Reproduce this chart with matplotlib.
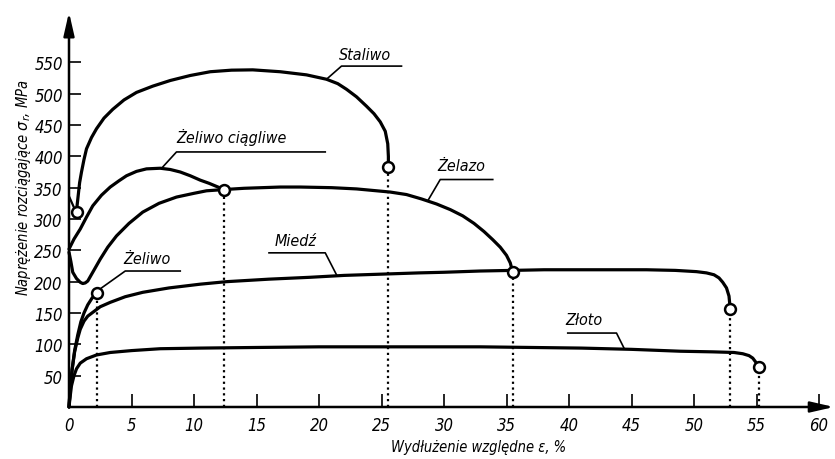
import matplotlib
matplotlib.use("Agg")
import matplotlib.pyplot as plt
import matplotlib.font_manager as fm

# ---------------- data ----------------
xticks = list(range(0, 61, 5))
yticks = list(range(50, 551, 50))

staliwo_x = [0.6, 0.65, 0.75, 0.85, 1.0, 1.2, 1.4, 1.8, 2.2, 2.8, 3.5, 4.4, 5.4, 6.7, 8.1,
             9.7, 11.3, 13.0, 14.7, 16.9, 19.0, 20.6, 21.5, 22.2, 23.0, 23.8, 24.4, 24.9,
             25.3, 25.5, 25.55, 25.55]
staliwo_y = [311, 322, 340, 358, 375, 395, 412, 430, 444, 461, 475, 490, 502, 512, 521,
             529, 535, 537.5, 538, 535, 530, 523, 516, 507, 495, 480, 468, 455,
             440, 420, 400, 383]
staliwo_stub_x = [0.05, 0.45]
staliwo_stub_y = [334, 316]

zel_ciag_x = [0, 0.4, 0.9, 1.4, 1.9, 2.6, 3.3, 4.0, 4.6, 5.4, 6.2, 7.3, 8.1, 8.9, 9.7,
              10.5, 11.2, 11.8, 12.4]
zel_ciag_y = [252, 268, 284, 303, 321, 338, 351, 361, 369, 376, 380, 381, 379, 375, 369,
              362, 357, 352, 347]

zelazo_x = [0, 0.15, 0.3, 0.6, 0.9, 1.1, 1.3, 1.5, 1.9, 2.5, 3.1, 3.8, 4.8, 5.9, 7.2, 8.6,
            10.0, 11.0, 12.4, 14.0, 16.9, 18.5, 21.0, 23.0, 25.7, 27.0, 28.2, 29.4, 30.5,
            31.5, 32.4, 33.2, 33.9, 34.5, 35.0, 35.3, 35.5]
zelazo_y = [247, 232, 215, 205, 199, 197, 198, 201, 215, 236, 255, 273, 293, 311, 325, 335,
            341, 345, 347, 349, 351, 351, 350, 348, 343, 339, 332, 324, 315,
            305, 293, 280, 267, 255, 242, 230, 215]

zeliwo_x = [0, 0.1, 0.25, 0.45, 0.7, 0.95, 1.2, 1.5, 1.85, 2.2]
zeliwo_y = [0, 30, 60, 90, 115, 136, 150, 163, 174, 182]

miedz_x = [0, 0.1, 0.25, 0.45, 0.7, 0.9, 1.2, 1.5, 1.9, 2.5, 3.3, 4.5, 5.9, 8.0, 10.5, 12.6,
           16.0, 19.3, 22.0, 25.0, 28.0, 30.0, 32.9, 35.5, 38.0, 40.9, 44.0, 46.2, 48.5,
           50.2, 51.0, 51.6, 52.0, 52.3, 52.6, 52.8, 52.9]
miedz_y = [0, 30, 60, 88, 110, 124, 137, 145, 151, 160, 167, 176, 183, 190, 196, 200,
           204, 207, 210, 212, 214, 215, 217, 218, 219, 219, 219, 219, 218,
           216, 214, 211, 206, 199, 190, 177, 156]

zloto_x = [0, 0.1, 0.2, 0.4, 0.6, 0.9, 1.4, 2.2, 3.3, 5.0, 7.3, 10.5, 15, 20, 25, 30, 32.9,
           37, 41, 45, 48.9, 51.5, 53.2, 53.9, 54.4, 54.7, 55.0, 55.2]
zloto_y = [0, 18, 34, 50, 61, 70, 77, 83, 87, 90, 93, 94, 95, 96, 96, 96, 96,
           95, 94, 92, 89, 88, 87, 85, 82, 78, 70, 64]

# break points (circles) and dotted drop lines
circle_x = [0.6, 2.2, 12.4, 25.5, 35.5, 52.9, 55.2]
circle_y = [311, 182, 347, 383, 215, 156, 64]
drop_x = [2.2, 12.4, 25.5, 35.5, 52.9, 55.2]
drop_y = [182, 347, 383, 215, 156, 64]

# curve labels with leader lines
labels = ["Staliwo", "Żeliwo ciągliwe", "Żelazo", "Miedź", "Żeliwo", "Złoto"]
label_x = [23.7, 13.0, 31.4, 18.1, 6.2, 41.2]
label_y = [563, 432, 385, 265, 237, 139]
leaders_x = [[20.6, 21.8, 26.6], [7.5, 8.6, 20.5], [28.7, 29.7, 33.9],
             [21.4, 20.5, 16.0], [2.6, 4.5, 8.9], [44.4, 43.8, 39.9]]
leaders_y = [[523, 544, 544], [383, 407, 407], [329, 363, 363],
             [211, 246, 246], [190, 217, 217], [94, 118, 118]]

xlabel = "Wydłużenie względne ε, %"
ylabel = "Naprężenie rozciągające $\\sigma_r$, MPa"

# ---------------- font: prefer a narrow italic face ----------------
def pick_font():
    cands = []
    for f in fm.fontManager.ttflist:
        narrowish = ('Narrow' in f.name or 'Condensed' in f.name or
                     str(f.stretch) in ('condensed', 'semi-condensed', 'extra-condensed'))
        if narrowish and f.style in ('italic', 'oblique') and str(f.weight) in ('400', 'normal', 'regular', 'book'):
            cands.append(f)
    if cands:
        cands.sort(key=lambda f: (0 if 'Liberation' in f.name else 1 if 'DejaVu' in f.name else 2))
        return fm.FontProperties(fname=cands[0].fname), 1.0
    return fm.FontProperties(family='Roboto', style='italic'), 0.92

base_fp, scale = pick_font()

def fp(size):
    p = base_fp.copy()
    p.set_size(size * scale)
    return p

plt.rcParams['mathtext.default'] = 'it'

W, H = 835, 460
fig = plt.figure(figsize=(W / 100, H / 100), dpi=100)
ax = fig.add_axes([69 / W, 52 / H, 765 / W, 394.8 / H])
ax.set_xlim(0, 61.2)
ax.set_ylim(0, 630)
for s in ax.spines.values():
    s.set_visible(False)

# axes with arrows
arrow = dict(arrowstyle='-|>,head_length=0.7,head_width=0.16', lw=1.8, color='black',
             mutation_scale=20, shrinkA=0, shrinkB=0)
ax.annotate('', xy=(61.2, 0), xytext=(0, 0), arrowprops=arrow, annotation_clip=False)
ax.annotate('', xy=(0, 630), xytext=(0, 0), arrowprops=arrow, annotation_clip=False)

ax.set_xticks(xticks)
ax.set_yticks(yticks)
ax.set_xticklabels([str(v) for v in xticks], fontproperties=fp(12))
ax.set_yticklabels([str(v) for v in yticks], fontproperties=fp(12))
ax.tick_params(axis='x', direction='in', length=9.5, width=1.2, pad=6.5)
ax.tick_params(axis='y', direction='in', length=8.6, width=1.2, pad=4.5)

lw = 2.3
kw = dict(color='black', lw=lw, solid_capstyle='round', solid_joinstyle='round', clip_on=False)
ax.plot(staliwo_x, staliwo_y, **kw)
ax.plot(staliwo_stub_x, staliwo_stub_y, color='black', lw=1.6, clip_on=False)
ax.plot(zel_ciag_x, zel_ciag_y, **kw)
ax.plot(zelazo_x, zelazo_y, **kw)
ax.plot(zeliwo_x, zeliwo_y, **kw)
ax.plot(miedz_x, miedz_y, **kw)
ax.plot(zloto_x, zloto_y, **kw)

ax.vlines(drop_x, 0, drop_y, colors='black', linestyles=(0, (1, 1.6)), lw=1.6)

for lx, ly in zip(leaders_x, leaders_y):
    ax.plot(lx, ly, color='black', lw=1.2)
for t, x, y in zip(labels, label_x, label_y):
    ax.text(x, y, t, ha='center', va='center', fontproperties=fp(11.5))

ax.plot(circle_x, circle_y, 'o', ms=7.8, mfc='white', mec='black', mew=1.8,
        zorder=5, clip_on=False)

fig.text(479 / W, 1 - 448 / H, xlabel, ha='center', va='center', fontproperties=fp(10.5))
fig.text(24 / W, 1 - 188 / H, ylabel, ha='center', va='center', rotation=90,
         fontproperties=fp(10.5))

fig.savefig("out.png", dpi=100)
